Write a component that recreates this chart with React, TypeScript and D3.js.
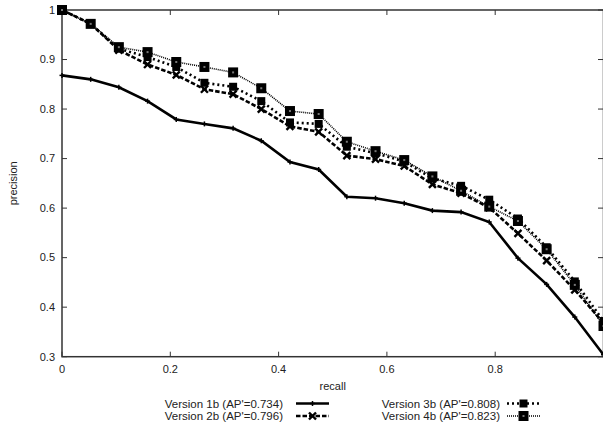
import * as d3 from "d3";

// recall levels (20 steps) and precision for each version
const recall = [0, 0.053, 0.105, 0.158, 0.211, 0.263, 0.316, 0.368, 0.421, 0.474, 0.526, 0.579, 0.632, 0.684, 0.737, 0.789, 0.842, 0.895, 0.947, 1.0];
const v1b = [0.868, 0.860, 0.844, 0.816, 0.779, 0.770, 0.761, 0.736, 0.693, 0.678, 0.623, 0.620, 0.610, 0.595, 0.592, 0.572, 0.499, 0.446, 0.380, 0.304];
const v2b = [1.0, 0.972, 0.919, 0.890, 0.869, 0.840, 0.830, 0.800, 0.765, 0.754, 0.706, 0.699, 0.685, 0.648, 0.630, 0.601, 0.549, 0.494, 0.435, 0.368];
const v3b = [1.0, 0.972, 0.922, 0.905, 0.885, 0.853, 0.845, 0.816, 0.773, 0.770, 0.724, 0.711, 0.694, 0.660, 0.645, 0.617, 0.579, 0.521, 0.452, 0.372];
const v4b = [1.0, 0.972, 0.925, 0.915, 0.895, 0.885, 0.874, 0.842, 0.796, 0.790, 0.734, 0.715, 0.697, 0.664, 0.635, 0.603, 0.574, 0.517, 0.445, 0.362];

const seriesNames = ["Version 1b (AP'=0.734)", "Version 2b (AP'=0.796)", "Version 3b (AP'=0.808)", "Version 4b (AP'=0.823)"];
const yTicks = [0.3, 0.4, 0.5, 0.6, 0.7, 0.8, 0.9, 1];
const xTicks = [0, 0.2, 0.4, 0.6, 0.8];

const font = "'Liberation Sans', Arial, sans-serif";

// line styles per series
const styles = [
  { dash: "none", width: 2.6, marker: "plus" },
  { dash: "4.5,2", width: 2.6, marker: "cross" },
  { dash: "2,3", width: 2.6, marker: "fsquare" },
  { dash: "1,1", width: 1.6, marker: "box" },
];

function Marker({ type, x, y }: { type: string; x: number; y: number }) {
  if (type === "plus") {
    return (
      <g stroke="#000" strokeWidth={1.5}>
        <line x1={x - 2.5} x2={x + 2.5} y1={y} y2={y} />
        <line x1={x} x2={x} y1={y - 2.5} y2={y + 2.5} />
      </g>
    );
  }
  if (type === "cross") {
    return (
      <g stroke="#000" strokeWidth={2.4}>
        <line x1={x - 3.5} x2={x + 3.5} y1={y - 3.5} y2={y + 3.5} />
        <line x1={x - 3.5} x2={x + 3.5} y1={y + 3.5} y2={y - 3.5} />
      </g>
    );
  }
  if (type === "fsquare") {
    return <rect x={x - 4} y={y - 4} width={8} height={8} fill="#000" />;
  }
  return (
    <g>
      <rect x={x - 5} y={y - 5} width={10} height={10} fill="#000" />
      <rect x={x - 1} y={y - 1} width={2} height={2} fill="#777" />
    </g>
  );
}

export default function App() {
  const x = d3.scaleLinear().domain([0, 1]).range([62, 603.5]);
  const y = d3.scaleLinear().domain([0.3, 1]).range([356.7, 10]);
  const all = [v1b, v2b, v3b, v4b];
  const line = d3
    .line<number>()
    .x((_, i) => x(recall[i]))
    .y((d) => y(d));

  const legendPos = [
    { tx: 283, ty: 403.5, lx: 296 },
    { tx: 283, ty: 416, lx: 296 },
    { tx: 500, ty: 403.5, lx: 507 },
    { tx: 500, ty: 416, lx: 507 },
  ];

  return (
    <svg width={603} height={431} style={{ position: "absolute", left: 0, top: 0, background: "#fff" }} fontFamily={font}>
      <rect width={603} height={431} fill="#fff" />
      {/* ticks */}
      {yTicks.map((t) => (
        <g key={"y" + t}>
          <line x1={62} x2={67} y1={y(t)} y2={y(t)} stroke="#333" strokeWidth={1} />
          <line x1={598} x2={603.5} y1={y(t)} y2={y(t)} stroke="#333" strokeWidth={1} />
          <text x={55} y={y(t)} dy="0.35em" textAnchor="end" fontSize={11} fill="#222">
            {String(t)}
          </text>
        </g>
      ))}
      {xTicks.map((t) => (
        <g key={"x" + t}>
          <line x1={x(t)} x2={x(t)} y1={y(0.3)} y2={y(0.3) - 5} stroke="#333" strokeWidth={1} />
          <line x1={x(t)} x2={x(t)} y1={y(1)} y2={y(1) + 5} stroke="#333" strokeWidth={1} />
          <text x={x(t)} y={373} textAnchor="middle" fontSize={11} fill="#222">
            {String(t)}
          </text>
        </g>
      ))}
      {/* frame */}
      <rect x={x(0)} y={y(1)} width={x(1) - x(0)} height={y(0.3) - y(1)} fill="none" stroke="#333" strokeWidth={1.5} />
      {/* axis titles */}
      <text x={x(0.5)} y={390} textAnchor="middle" fontSize={11} fill="#222">recall</text>
      <text transform={`translate(17,${y(0.65)}) rotate(-90)`} textAnchor="middle" fontSize={11} fill="#222">precision</text>
      {/* series */}
      {all.map((vals, si) => (
        <g key={si}>
          <path d={line(vals) || ""} fill="none" stroke="#000" strokeWidth={styles[si].width} strokeDasharray={styles[si].dash} />
          {vals.map((v, i) => (
            <Marker key={i} type={styles[si].marker} x={x(recall[i])} y={y(v)} />
          ))}
        </g>
      ))}
      {/* legend */}
      {seriesNames.map((name, si) => {
        const p = legendPos[si];
        return (
          <g key={name}>
            <text x={p.tx} y={p.ty} dy="0.35em" textAnchor="end" fontSize={11.5} fill="#222">
              {name}
            </text>
            <line x1={p.lx} x2={p.lx + 33} y1={p.ty} y2={p.ty} stroke="#000" strokeWidth={styles[si].width} strokeDasharray={styles[si].dash} />
            <Marker type={styles[si].marker} x={p.lx + 16.5} y={p.ty} />
          </g>
        );
      })}
    </svg>
  );
}
